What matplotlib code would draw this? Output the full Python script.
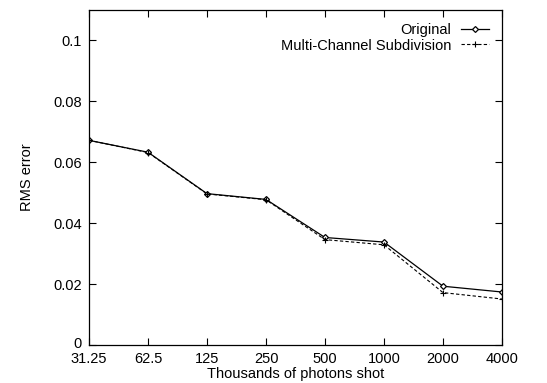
import matplotlib
matplotlib.use("Agg")
import matplotlib.pyplot as plt
import matplotlib.transforms as mtransforms

plt.rcParams['font.family'] = ['Liberation Sans', 'DejaVu Sans']

photons = [31.25, 62.5, 125, 250, 500, 1000, 2000, 4000]
tick_labels = ["31.25", "62.5", "125", "250", "500", "1000", "2000", "4000"]
original = [0.0672, 0.0633, 0.0497, 0.0478, 0.0353, 0.0338, 0.0193, 0.0174]
multi = [0.0672, 0.0632, 0.0496, 0.0477, 0.0346, 0.0329, 0.0172, 0.0151]

fig = plt.figure(figsize=(5.47, 3.83), dpi=100)
ax = fig.add_axes([89/547, 1 - 345/383, (502 - 89)/547, (345 - 10)/383])

ax.plot(photons, original, color="black", lw=0.9, marker="D", ms=3,
        mfc="white", mec="black", mew=0.9, label="Original")
ax.plot(photons, multi, color="black", lw=0.8, ls=(0, (3, 2)), marker="+",
        ms=4, mew=0.8, label="Multi-Channel Subdivision")

ax.set_xscale("log", base=2)
ax.set_xlim(31.25, 4000)
ax.set_xticks(photons)
ax.set_xticklabels(tick_labels)
ax.minorticks_off()
ax.set_ylim(0, 0.11)
ax.set_yticks([0, 0.02, 0.04, 0.06, 0.08, 0.1])
ax.set_yticklabels(["0", "0.02", "0.04", "0.06", "0.08", "0.1"])
ax.tick_params(direction="in", top=True, right=True, length=5, labelsize=10.5)
ax.tick_params(axis="x", pad=5)
ax.tick_params(axis="y", pad=5)
for s in ax.spines.values():
    s.set_linewidth(0.9)

# nudge the bottom y label up a little so it does not touch "31.25"
zero_lbl = ax.get_yticklabels()[0]
zero_lbl.set_transform(zero_lbl.get_transform() +
                       mtransforms.ScaledTranslation(0, 2/72, fig.dpi_scale_trans))

ax.set_xlabel("Thousands of photons shot", fontsize=10.5, labelpad=1)
ax.set_ylabel("RMS error", fontsize=10.5, labelpad=14)

ax.legend(loc="upper right", frameon=False, markerfirst=False, fontsize=10.5,
          handlelength=1.9, borderaxespad=0.5, labelspacing=0.1, handletextpad=0.7)

fig.savefig("out.png", dpi=100)
